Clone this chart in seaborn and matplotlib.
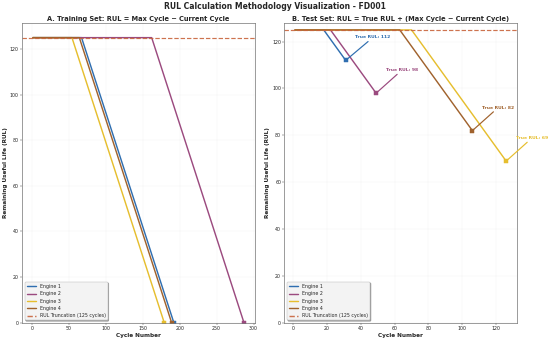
import matplotlib
matplotlib.use("Agg")
import matplotlib.pyplot as plt
import seaborn as sns
import pandas as pd

# ── Dados ─────────────────────────────────────────────────────────────────────
ENGINES = ["Engine 1", "Engine 2", "Engine 3", "Engine 4"]
COLORS = ["#2F6EB0", "#9B4A7F", "#E6BE2E", "#A0622D"]
TRUNC = 125
TRUNC_COLOR = "#C8643C"

# treino: (inicio, joelho, fim) do ciclo e RUL correspondente
TRAIN_CYCLES = [[1, 67, 192], [1, 162, 287], [1, 54, 179], [1, 64, 189]]
TRAIN_RUL = [[125, 125, 0], [125, 125, 0], [125, 125, 0], [125, 125, 0]]

# teste: (inicio, joelho, ultimo ciclo) e RUL
TEST_CYCLES = [[1, 18, 31], [1, 22, 49], [1, 70, 126], [1, 63, 106]]
TEST_RUL = [[125, 125, 112], [125, 125, 98], [125, 125, 69], [125, 125, 82]]
TRUE_RUL = [112, 98, 69, 82]


def montar_df(ciclos, ruls):
    linhas = []
    for nome, xs, ys in zip(ENGINES, ciclos, ruls):
        for x, y in zip(xs, ys):
            linhas.append({"engine": nome, "cycle": x, "rul": y})
    return pd.DataFrame(linhas)


sns.set_style("ticks")
plt.rcParams["font.family"] = ["DejaVu Sans"]

fig, axes = plt.subplots(1, 2, figsize=(16, 344 / 34.375))

df_train = montar_df(TRAIN_CYCLES, TRAIN_RUL)
df_test = montar_df(TEST_CYCLES, TEST_RUL)

# -- Painel A: treino --
ax = axes[0]
for nome, cor in zip(ENGINES, COLORS):
    d = df_train[df_train["engine"] == nome]
    sns.lineplot(data=d, x="cycle", y="rul", color=cor, linewidth=3,
                 label=nome, ax=ax)
    fim = d.iloc[-1]
    ax.plot(fim["cycle"], fim["rul"], "s", color=cor, markersize=8)
ax.axhline(TRUNC, color=TRUNC_COLOR, linestyle="--", linewidth=2.5,
           alpha=0.9, label=f"RUL Truncation ({TRUNC} cycles)")
ax.set_ylim(bottom=0)
ax.set_title("A. Training Set: RUL = Max Cycle \u2212 Current Cycle",
             fontsize=14, fontweight="bold")

# -- Painel B: teste --
ax = axes[1]
for nome, cor, rul in zip(ENGINES, COLORS, TRUE_RUL):
    d = df_test[df_test["engine"] == nome]
    sns.lineplot(data=d, x="cycle", y="rul", color=cor, linewidth=3,
                 label=nome, ax=ax)
    fim = d.iloc[-1]
    ax.plot(fim["cycle"], fim["rul"], "s", color=cor, markersize=8)
    ax.annotate(f"True RUL: {rul}", xy=(fim["cycle"], fim["rul"]),
                xytext=(20, 48), textcoords="offset points",
                ha="left", va="center", fontsize=9.5, fontweight="bold",
                color=cor,
                arrowprops=dict(arrowstyle="-", color=cor, lw=2.5))
ax.axhline(TRUNC, color=TRUNC_COLOR, linestyle="--", linewidth=2.5,
           alpha=0.9, label=f"RUL Truncation ({TRUNC} cycles)")
ax.set_ylim(bottom=0)
ax.set_title("B. Test Set: RUL = True RUL + (Max Cycle \u2212 Current Cycle)",
             fontsize=14, fontweight="bold")

for ax in axes:
    ax.set_xlabel("Cycle Number", fontsize=12, fontweight="bold")
    ax.set_ylabel("Remaining Useful Life (RUL)", fontsize=12, fontweight="bold")
    ax.grid(True, alpha=0.3)
    leg = ax.legend(loc="lower left", fontsize=10, shadow=True, fancybox=True,
                    facecolor="#f3f3f3", edgecolor="#bbbbbb")
    for h in leg.get_lines():
        h.set_linewidth(3)
    ax.tick_params(labelsize=10)
    for s in ax.spines.values():
        s.set_color("#777777")
        s.set_linewidth(1.5)

fig.suptitle("RUL Calculation Methodology Visualization - FD001",
             fontsize=16, fontweight="bold", y=0.995)
fig.subplots_adjust(left=0.0405, right=0.9395, bottom=0.062, top=0.932,
                    wspace=0.129)
fig.savefig("out.png", dpi=34.375)
